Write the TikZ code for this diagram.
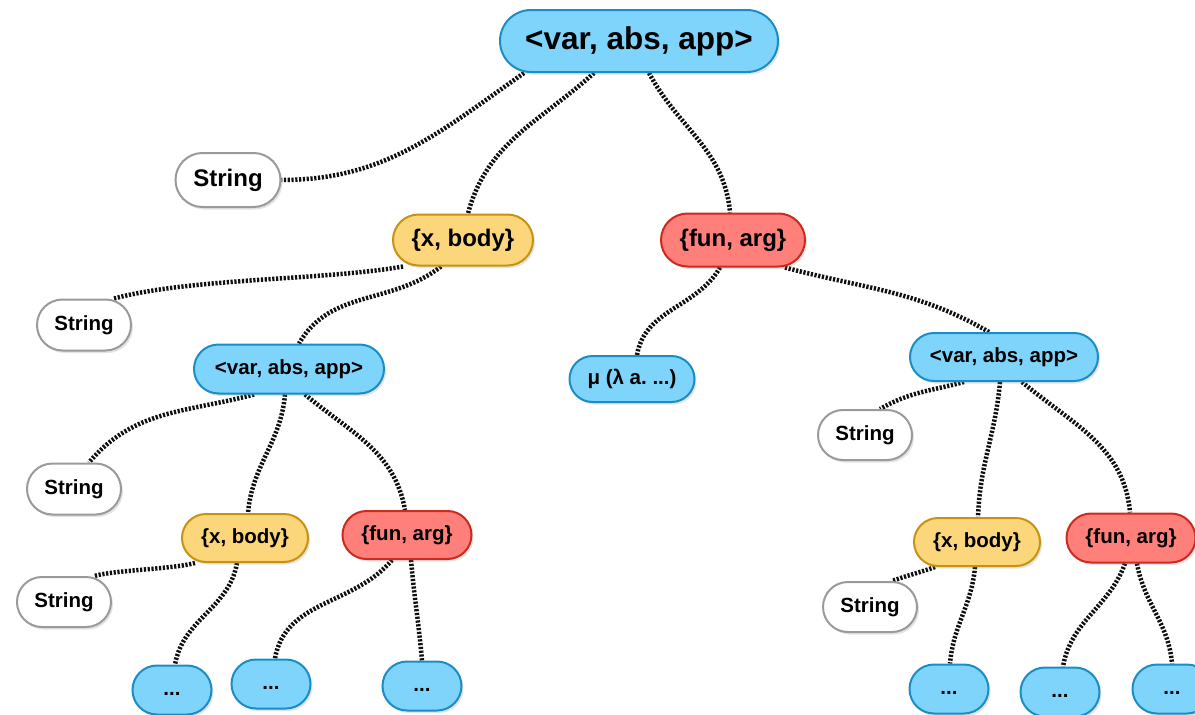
\documentclass[tikz,border=0pt]{standalone}
\usepackage{fontspec}
\setmainfont{Liberation Sans}
\frenchspacing
\usetikzlibrary{shapes.misc,shadows,backgrounds}

\definecolor{bluefill}{RGB}{127,212,251}
\definecolor{blueline}{RGB}{26,141,198}
\definecolor{yelfill}{RGB}{252,214,122}
\definecolor{yelline}{RGB}{200,146,17}
\definecolor{redfill}{RGB}{255,127,122}
\definecolor{redline}{RGB}{204,42,30}
\definecolor{greyline}{RGB}{154,154,154}
\definecolor{linkcol}{RGB}{15,15,15}

% ellipsis placed a little below the centre of its pill
\newcommand\lowdots{\smash{\raisebox{-5pt}{...}}}

\tikzset{
  pill/.style={rounded rectangle, line width=2pt, inner sep=0pt, text=black,
    drop shadow={shadow xshift=2pt, shadow yshift=-2.5pt, opacity=0.22}},
  sumtype/.style={pill, fill=bluefill, draw=blueline},
  abstype/.style={pill, fill=yelfill, draw=yelline},
  apptype/.style={pill, fill=redfill, draw=redline},
  strtype/.style={pill, fill=white, draw=greyline},
  lvlone/.style={font=\bfseries\fontsize{31.5}{37}\selectfont},
  lvltwo/.style={font=\bfseries\fontsize{24}{29}\selectfont},
  lvlthree/.style={font=\bfseries\fontsize{20.5}{25}\selectfont},
  link/.style={draw=linkcol, line width=4.5pt, dash pattern=on 2.2pt off 1.6pt}
}

\begin{document}
\begin{tikzpicture}[x=1pt,y=1pt]
\useasboundingbox (0,0) rectangle (1195,-715);

% root
\node[sumtype, lvlone, minimum width=278, minimum height=62] (top) at (639,-41) {<var, abs, app>};

% second level
\node[strtype, lvltwo, minimum width=105, minimum height=54] (s1) at (228,-180) {String};
\node[abstype, lvltwo, minimum width=140, minimum height=51] (xb1) at (463,-240) {\{x, body\}};
\node[apptype, lvltwo, minimum width=144, minimum height=53] (fa1) at (733,-240) {\{fun, arg\}};

% third level
\node[strtype, lvlthree, minimum width=94, minimum height=51] (s2) at (84,-325) {String};
\node[sumtype, lvlthree, minimum width=190, minimum height=49] (v2) at (289,-369) {<var, abs, app>};
\node[sumtype, lvlthree, minimum width=125, minimum height=46] (mu) at (632,-379) {μ (λ a. ...)};
\node[sumtype, lvlthree, minimum width=188, minimum height=48] (v3) at (1004,-357) {<var, abs, app>};

% left subtree
\node[strtype, lvlthree, minimum width=94, minimum height=51] (s3) at (74,-489) {String};
\node[abstype, lvlthree, minimum width=126, minimum height=48] (xb2) at (245,-538) {\{x, body\}};
\node[apptype, lvlthree, minimum width=129, minimum height=48] (fa2) at (407,-535) {\{fun, arg\}};
\node[strtype, lvlthree, minimum width=94, minimum height=50] (s4) at (64,-602) {String};
\node[sumtype, lvlthree, minimum width=79, minimum height=49] (d1) at (172,-690) {\lowdots};
\node[sumtype, lvlthree, minimum width=79, minimum height=49] (d2) at (271,-684) {\lowdots};
\node[sumtype, lvlthree, minimum width=79, minimum height=49] (d3) at (422,-686) {\lowdots};

% right subtree
\node[strtype, lvlthree, minimum width=94, minimum height=50] (s5) at (865,-435) {String};
\node[abstype, lvlthree, minimum width=126, minimum height=48] (xb3) at (977,-542) {\{x, body\}};
\node[apptype, lvlthree, minimum width=129, minimum height=49] (fa3) at (1131,-538) {\{fun, arg\}};
\node[strtype, lvlthree, minimum width=94, minimum height=50] (s6) at (870,-607) {String};
\node[sumtype, lvlthree, minimum width=79, minimum height=49] (d4) at (949,-689) {\lowdots};
\node[sumtype, lvlthree, minimum width=79, minimum height=49] (d5) at (1060,-692) {\lowdots};
\node[sumtype, lvlthree, minimum width=79, minimum height=49] (d6) at (1172,-689) {\lowdots};

\begin{scope}[on background layer]
% root
\draw[link] ([xshift=-115]top.south) to[out=215, in=0] (s1.east);
\draw[link] ([xshift=-45]top.south) to[out=222, in=75] ([xshift=5]xb1.north);
\draw[link] ([xshift=10]top.south) to[out=-62, in=95] ([xshift=-3]fa1.north);
% abstraction
\draw[link] ([xshift=-60]xb1.south) to[out=190, in=15, looseness=0.7] ([xshift=30]s2.north);
\draw[link] ([xshift=-22]xb1.south) to[out=218, in=60] ([xshift=10]v2.north);
% application
\draw[link] ([xshift=-13]fa1.south) to[out=240, in=80] ([xshift=5]mu.north);
\draw[link] ([xshift=52]fa1.south) to[out=-15, in=150] ([xshift=-15]v3.north);
% left term
\draw[link] ([xshift=-35]v2.south) to[out=195, in=50] ([xshift=15]s3.north);
\draw[link] ([xshift=-4]v2.south) to[out=-95, in=85] ([xshift=3]xb2.north);
\draw[link] ([xshift=16]v2.south) to[out=-40, in=100] ([xshift=-2]fa2.north);
\draw[link] ([xshift=-50]xb2.south) to[out=195, in=15, looseness=0.6] ([xshift=30]s4.north);
\draw[link] ([xshift=-8]xb2.south) to[out=-100, in=80] ([xshift=3]d1.north);
\draw[link] ([xshift=-15]fa2.south) to[out=-130, in=80] ([xshift=4]d2.north);
\draw[link] ([xshift=4]fa2.south) to[out=-85, in=95] (d3.north);
% right term
\draw[link] ([xshift=-40]v3.south) to[out=195, in=30] ([xshift=15]s5.north);
\draw[link] ([xshift=-4]v3.south) to[out=-95, in=88] ([xshift=1]xb3.north);
\draw[link] ([xshift=18]v3.south) to[out=-40, in=95] ([xshift=-1]fa3.north);
\draw[link] ([xshift=-42]xb3.south) to[out=200, in=20] ([xshift=22]s6.north);
\draw[link] ([xshift=-2]xb3.south) to[out=-95, in=85] ([xshift=1]d4.north);
\draw[link] ([xshift=-6]fa3.south) to[out=-110, in=80] ([xshift=3]d5.north);
\draw[link] ([xshift=6]fa3.south) to[out=-80, in=95] (d6.north);
\end{scope}
\end{tikzpicture}
\end{document}
